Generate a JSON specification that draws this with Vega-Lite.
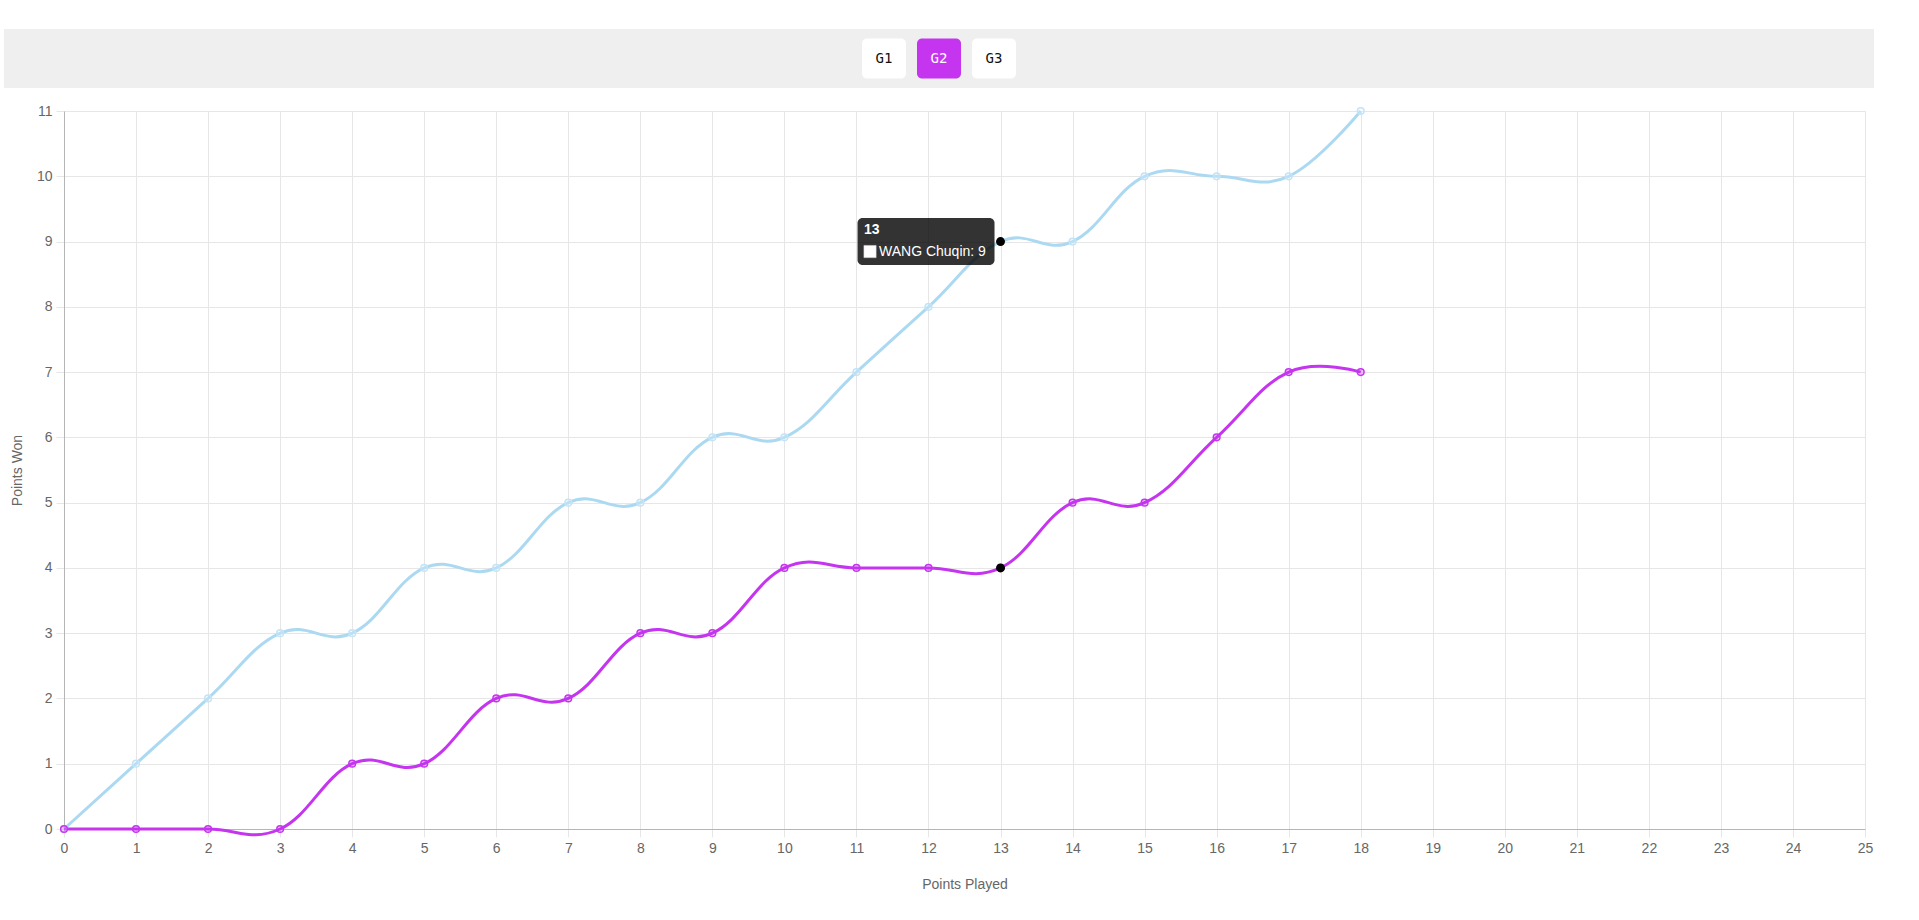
{
  "$schema": "https://vega.github.io/schema/vega-lite/v6.json",
  "background": "white",
  "padding": {"left": 4, "top": 29, "right": 5, "bottom": 5},
  "spacing": 16,
  "resolve": {"scale": {"color": "independent", "fill": "independent", "stroke": "independent"}},
  "datasets": {
    "games": [
      {"game": "G1", "selected": "no"},
      {"game": "G2", "selected": "yes"},
      {"game": "G3", "selected": "no"}
    ],
    "series": [
      {"played": 0, "won": 0, "player": "WANG Chuqin"},
      {"played": 1, "won": 1, "player": "WANG Chuqin"},
      {"played": 2, "won": 2, "player": "WANG Chuqin"},
      {"played": 3, "won": 3, "player": "WANG Chuqin"},
      {"played": 4, "won": 3, "player": "WANG Chuqin"},
      {"played": 5, "won": 4, "player": "WANG Chuqin"},
      {"played": 6, "won": 4, "player": "WANG Chuqin"},
      {"played": 7, "won": 5, "player": "WANG Chuqin"},
      {"played": 8, "won": 5, "player": "WANG Chuqin"},
      {"played": 9, "won": 6, "player": "WANG Chuqin"},
      {"played": 10, "won": 6, "player": "WANG Chuqin"},
      {"played": 11, "won": 7, "player": "WANG Chuqin"},
      {"played": 12, "won": 8, "player": "WANG Chuqin"},
      {"played": 13, "won": 9, "player": "WANG Chuqin"},
      {"played": 14, "won": 9, "player": "WANG Chuqin"},
      {"played": 15, "won": 10, "player": "WANG Chuqin"},
      {"played": 16, "won": 10, "player": "WANG Chuqin"},
      {"played": 17, "won": 10, "player": "WANG Chuqin"},
      {"played": 18, "won": 11, "player": "WANG Chuqin"},
      {"played": 0, "won": 0, "player": "Opponent"},
      {"played": 1, "won": 0, "player": "Opponent"},
      {"played": 2, "won": 0, "player": "Opponent"},
      {"played": 3, "won": 0, "player": "Opponent"},
      {"played": 4, "won": 1, "player": "Opponent"},
      {"played": 5, "won": 1, "player": "Opponent"},
      {"played": 6, "won": 2, "player": "Opponent"},
      {"played": 7, "won": 2, "player": "Opponent"},
      {"played": 8, "won": 3, "player": "Opponent"},
      {"played": 9, "won": 3, "player": "Opponent"},
      {"played": 10, "won": 4, "player": "Opponent"},
      {"played": 11, "won": 4, "player": "Opponent"},
      {"played": 12, "won": 4, "player": "Opponent"},
      {"played": 13, "won": 4, "player": "Opponent"},
      {"played": 14, "won": 5, "player": "Opponent"},
      {"played": 15, "won": 5, "player": "Opponent"},
      {"played": 16, "won": 6, "player": "Opponent"},
      {"played": 17, "won": 7, "player": "Opponent"},
      {"played": 18, "won": 7, "player": "Opponent"}
    ],
    "hover": [
      {"played": 13, "won": 9},
      {"played": 13, "won": 4}
    ],
    "tooltip": [
      {"played": 13, "won": 9, "title": "13", "label": "WANG Chuqin: 9"}
    ]
  },
  "vconcat": [
    {
      "width": 1870,
      "height": 59,
      "view": {"fill": "#efefef", "stroke": null},
      "data": {"name": "games"},
      "encoding": {
        "x": {"field": "game", "type": "nominal", "axis": null,
              "scale": {"range": [858, 1012], "paddingInner": 0.2, "paddingOuter": 0}},
        "y": {"datum": "buttons", "type": "nominal", "axis": null,
              "scale": {"paddingInner": 0, "paddingOuter": 0.2375}}
      },
      "layer": [
        {
          "mark": {"type": "rect", "cornerRadius": 5},
          "encoding": {
            "fill": {"field": "selected", "type": "nominal", "legend": null,
                     "scale": {"domain": ["no", "yes"], "range": ["#ffffff", "#c535f0"]}}
          }
        },
        {
          "mark": {"type": "text", "font": "DejaVu Sans Mono", "fontSize": 14, "fontWeight": "normal", "baseline": "middle", "align": "center"},
          "encoding": {
            "text": {"field": "game"},
            "color": {"field": "selected", "type": "nominal", "legend": null,
                      "scale": {"domain": ["no", "yes"], "range": ["#111111", "#ffffff"]}}
          }
        }
      ]
    },
    {
      "spacing": 0,
      "hconcat": [
        {
          "width": 6,
          "height": 1,
          "data": {"values": [{}]},
          "mark": {"type": "point", "opacity": 0}
        },
        {
          "width": 1801,
          "height": 718,
          "encoding": {
            "x": {"field": "played", "type": "quantitative",
                  "scale": {"domain": [0, 25], "nice": false},
                  "axis": {"title": "Points Played",
                           "values": [0,1,2,3,4,5,6,7,8,9,10,11,12,13,14,15,16,17,18,19,20,21,22,23,24,25],
                           "titlePadding": 22}},
            "y": {"field": "won", "type": "quantitative",
                  "scale": {"domain": [0, 11], "nice": false},
                  "axis": {"title": "Points Won",
                           "values": [0,1,2,3,4,5,6,7,8,9,10,11],
                           "titlePadding": 12}}
          },
          "layer": [
            {
              "data": {"name": "series"},
              "mark": {"type": "line", "interpolate": "cardinal", "tension": -0.2, "strokeWidth": 3},
              "encoding": {
                "color": {"field": "player", "type": "nominal", "legend": null,
                          "scale": {"domain": ["WANG Chuqin", "Opponent"], "range": ["#acd9f2", "#c535f0"]}}
              }
            },
            {
              "data": {"name": "series"},
              "mark": {"type": "point", "shape": "circle", "size": 45, "strokeWidth": 1.5, "fillOpacity": 0.25, "opacity": 1},
              "encoding": {
                "stroke": {"field": "player", "type": "nominal", "legend": null,
                           "scale": {"domain": ["WANG Chuqin", "Opponent"], "range": ["#c2e4f6", "#c535f0"]}},
                "fill": {"field": "player", "type": "nominal", "legend": null,
                         "scale": {"domain": ["WANG Chuqin", "Opponent"], "range": ["#e8f5fc", "#c535f0"]}}
              }
            },
            {
              "data": {"name": "hover"},
              "mark": {"type": "circle", "size": 80, "color": "#000000", "opacity": 1}
            },
            {
              "data": {"name": "tooltip"},
              "mark": {"type": "rect", "width": 137, "height": 47, "cornerRadius": 5, "fill": "#000000", "fillOpacity": 0.8, "xOffset": -74.5}
            },
            {
              "data": {"name": "tooltip"},
              "mark": {"type": "point", "shape": "square", "size": 150, "filled": true, "fill": "#ffffff", "stroke": "#d0d0d0", "strokeWidth": 0.5, "opacity": 1, "xOffset": -130.5, "yOffset": 10}
            },
            {
              "data": {"name": "tooltip"},
              "mark": {"type": "text", "font": "Liberation Sans", "fontSize": 14, "fontWeight": "bold", "color": "#ffffff", "align": "left", "baseline": "middle", "dx": -136.5, "dy": -12},
              "encoding": {"text": {"field": "title"}}
            },
            {
              "data": {"name": "tooltip"},
              "mark": {"type": "text", "font": "Liberation Sans", "fontSize": 14, "color": "#ffffff", "align": "left", "baseline": "middle", "dx": -121.5, "dy": 10},
              "encoding": {"text": {"field": "label"}}
            }
          ]
        }
      ]
    }
  ],
  "config": {
    "view": {"stroke": null},
    "font": "Liberation Sans",
    "axis": {
      "labelFont": "Liberation Sans",
      "labelFontSize": 14,
      "labelColor": "#666666",
      "labelFlush": false,
      "titleFont": "Liberation Sans",
      "titleFontSize": 14,
      "titleFontWeight": "normal",
      "titleColor": "#666666",
      "gridColor": "#e6e6e6",
      "gridWidth": 1,
      "tickColor": "#e6e6e6",
      "tickSize": 8,
      "labelPadding": 4,
      "domainColor": "#b5b5b5",
      "domainWidth": 1,
      "grid": true
    }
  }
}
